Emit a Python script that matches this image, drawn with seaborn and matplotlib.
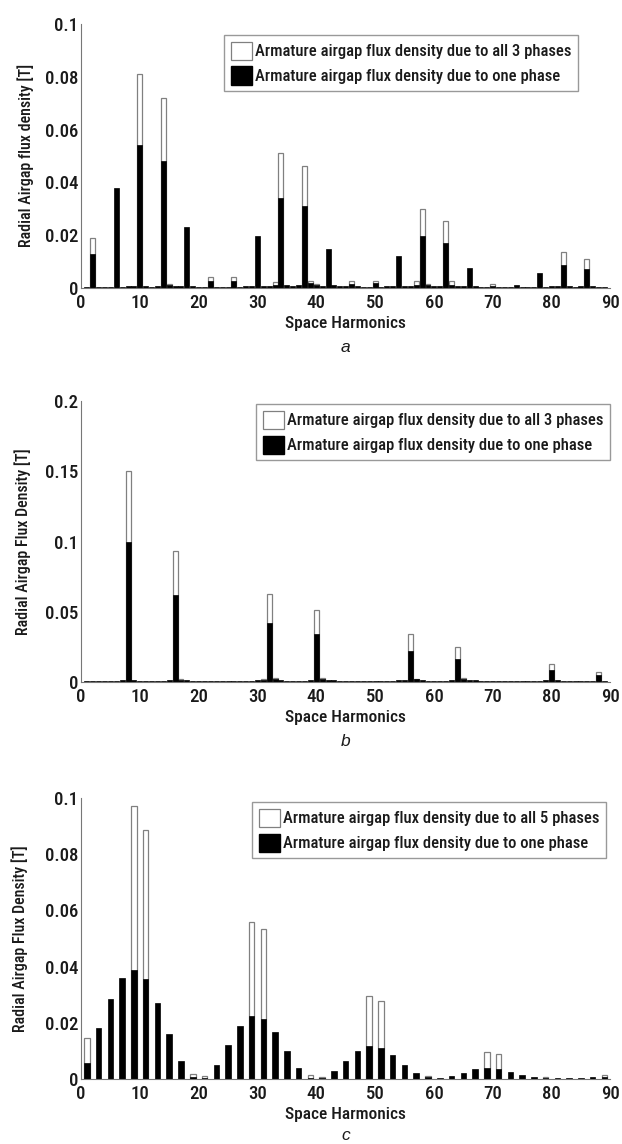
import matplotlib
matplotlib.use("Agg")
import matplotlib.pyplot as plt
from matplotlib.patches import Patch
from matplotlib import font_manager
import seaborn as sns
import numpy as np

# ---------------- data ----------------
harm_a = list(range(1, 90))
one_a = [0.0003, 0.013, 0.0003, 0.0003, 0.0004, 0.038, 0.0004, 0.0006, 0.0008, 0.054,
         0.0008, 0.0004, 0.0008, 0.048, 0.0012, 0.0008, 0.0006, 0.023, 0.0008, 0.0004,
         0.0004, 0.0028, 0.0004, 0.0003, 0.0004, 0.0028, 0.0004, 0.0006, 0.0008, 0.0198,
         0.0006, 0.0008, 0.0012, 0.034, 0.0012, 0.0006, 0.0012, 0.031, 0.0018, 0.0012,
         0.0008, 0.0148, 0.0012, 0.0008, 0.0006, 0.0015, 0.0006, 0.0004, 0.0004, 0.0018,
         0.0004, 0.0006, 0.0008, 0.012, 0.0008, 0.0008, 0.0012, 0.0198, 0.0012, 0.0008,
         0.0008, 0.017, 0.0012, 0.0008, 0.0006, 0.0077, 0.0006, 0.0004, 0.0004, 0.0008,
         0.0004, 0.0003, 0.0004, 0.0010, 0.0003, 0.0003, 0.0004, 0.0058, 0.0004, 0.0006,
         0.0008, 0.0088, 0.0008, 0.0004, 0.0006, 0.0072, 0.0008, 0.0004, 0.0003]
harm_a_all = [2, 10, 14, 15, 22, 26, 33, 34, 38, 39, 40, 46, 50, 57, 58, 59, 62, 63, 70, 82, 86]
all_a = [0.019, 0.081, 0.072, 0.0015, 0.004, 0.004, 0.0022, 0.051, 0.046, 0.0025, 0.0015,
         0.0025, 0.0025, 0.0025, 0.030, 0.0015, 0.0255, 0.0025, 0.0015, 0.0135, 0.0108]

harm_b = list(range(1, 90))
one_b = [0.0004, 0.0004, 0.0004, 0.0004, 0.0006, 0.0008, 0.0012, 0.100, 0.0015, 0.0008,
         0.0004, 0.0004, 0.0004, 0.0004, 0.0012, 0.062, 0.0018, 0.0012, 0.0008, 0.0006,
         0.0005, 0.0005, 0.0005, 0.0005, 0.0005, 0.0005, 0.0006, 0.0008, 0.0010, 0.0012,
         0.0018, 0.042, 0.0020, 0.0012, 0.0005, 0.0004, 0.0005, 0.0008, 0.0015, 0.034,
         0.0020, 0.0015, 0.0012, 0.0008, 0.0006, 0.0005, 0.0005, 0.0005, 0.0005, 0.0005,
         0.0006, 0.0008, 0.0010, 0.0012, 0.0018, 0.022, 0.0020, 0.0012, 0.0006, 0.0004,
         0.0005, 0.0008, 0.0012, 0.0165, 0.0020, 0.0015, 0.0012, 0.0008, 0.0006, 0.0005,
         0.0004, 0.0004, 0.0004, 0.0004, 0.0004, 0.0005, 0.0006, 0.0008, 0.0012, 0.0085,
         0.0012, 0.0006, 0.0004, 0.0004, 0.0004, 0.0005, 0.0008, 0.005, 0.0008]
harm_b_all = [8, 16, 17, 31, 32, 33, 40, 41, 56, 57, 64, 65, 80, 88]
all_b = [0.150, 0.093, 0.002, 0.002, 0.063, 0.003, 0.051, 0.003, 0.034, 0.002, 0.025, 0.003, 0.013, 0.0075]

harm_c = list(range(1, 90, 2))
one_c = [0.0058, 0.018, 0.0285, 0.036, 0.0388, 0.0355, 0.027, 0.016, 0.0063, 0.0008,
         0.0004, 0.005, 0.012, 0.0187, 0.0224, 0.0215, 0.0166, 0.0101, 0.004, 0.0004,
         0.0003, 0.0027, 0.0063, 0.0098, 0.0117, 0.0112, 0.0085, 0.005, 0.002, 0.0006,
         0.0003, 0.0009, 0.0022, 0.0034, 0.0038, 0.0035, 0.0025, 0.0015, 0.0007, 0.0004,
         0.0003, 0.0003, 0.0004, 0.0006, 0.0008]
harm_c_all = [1, 9, 11, 19, 21, 29, 31, 39, 41, 49, 51, 59, 69, 71, 79, 89]
all_c = [0.0145, 0.097, 0.0885, 0.0018, 0.0012, 0.056, 0.0533, 0.0015, 0.0008,
         0.0297, 0.0276, 0.001, 0.0097, 0.0088, 0.0006, 0.0015]

xticks = [0, 10, 20, 30, 40, 50, 60, 70, 80, 90]
yticks_a = [0, 0.02, 0.04, 0.06, 0.08, 0.1]
ylabels_a = ["0", "0.02", "0.04", "0.06", "0.08", "0.1"]
yticks_b = [0, 0.05, 0.1, 0.15, 0.2]
ylabels_b = ["0", "0.05", "0.1", "0.15", "0.2"]
yticks_c = yticks_a
ylabels_c = ylabels_a

leg_all3 = "Armature airgap flux density due to all 3 phases"
leg_all5 = "Armature airgap flux density due to all 5 phases"
leg_one = "Armature airgap flux density due to one phase"

# ---------------- style ----------------
sns.set_style("white")
installed = {f.name for f in font_manager.fontManager.ttflist}
cands = ["Roboto Condensed", "Roboto", "DejaVu Sans"]
FONT = [c for c in cands if c in installed] or ["DejaVu Sans"]
plt.rcParams["font.family"] = FONT
plt.rcParams["font.stretch"] = "condensed"
plt.rcParams["font.weight"] = "medium"
plt.rcParams["axes.labelweight"] = "medium"
TXT = "#1a1a1a"
EDGE_GRAY = "#808080"

fig = plt.figure(figsize=(6.22, 11.44), dpi=100)

W = 0.851
L = 81 / 622
panels = [
    dict(rect=[L, 0.7483, W, 0.2308], h=harm_a, one=one_a, ha=harm_a_all, al=all_a,
         w=0.85, yt=yticks_a, yl=ylabels_a, ymax=0.1,
         ylabel="Radial Airgap flux density [T]", leg=leg_all3,
         legpos=(578 / 622, 1 - 35 / 1144), cap="a", capy=1 - 347 / 1144, ylc=-0.088),
    dict(rect=[L, 0.4038, W, 0.2457], h=harm_b, one=one_b, ha=harm_b_all, al=all_b,
         w=0.85, yt=yticks_b, yl=ylabels_b, ymax=0.2,
         ylabel="Radial Airgap Flux Density [T]", leg=leg_all3,
         legpos=(610 / 622, 1 - 404 / 1144), cap="b", capy=1 - 742 / 1144, ylc=-0.094),
    dict(rect=[L, 0.0568, W, 0.2456], h=harm_c, one=one_c, ha=harm_c_all, al=all_c,
         w=0.47, yt=yticks_c, yl=ylabels_c, ymax=0.1,
         ylabel="Radial Airgap Flux Density [T]", leg=leg_all5,
         legpos=(606 / 622, 1 - 802 / 1144), cap="c", capy=1 - 1136 / 1144, ylc=-0.100),
]

for p in panels:
    ax = fig.add_axes(p["rect"])
    step = p["h"][1] - p["h"][0]
    bar_w_units = p["w"] * step
    sns.barplot(x=p["ha"], y=p["al"], native_scale=True, width=1.0, color="white",
                saturation=1, edgecolor=EDGE_GRAY, linewidth=0.9, errorbar=None, ax=ax)
    for patch in ax.patches:
        cx = patch.get_x() + patch.get_width() / 2
        patch.set_width(bar_w_units)
        patch.set_x(cx - bar_w_units / 2)
    sns.barplot(x=p["h"], y=p["one"], native_scale=True, width=p["w"], color="black",
                saturation=1, edgecolor="black", linewidth=0.5, errorbar=None, ax=ax)
    ax.set_xlim(0, 90)
    ax.set_ylim(0, p["ymax"])
    ax.set_xticks(xticks)
    ax.set_xticklabels([str(t) for t in xticks])
    ax.set_yticks(p["yt"])
    ax.set_yticklabels(p["yl"])
    ax.tick_params(axis="both", direction="in", length=3, width=0.8, colors="#777777",
                   labelsize=13.5, labelcolor=TXT)
    ax.tick_params(axis="x", pad=4)
    ax.tick_params(axis="y", pad=2)
    for s in ["top", "right"]:
        ax.spines[s].set_visible(False)
    for s in ["left", "bottom"]:
        ax.spines[s].set_color("#777777")
        ax.spines[s].set_linewidth(0.8)
    ax.set_xlabel("Space Harmonics", fontsize=12.5, color=TXT, labelpad=3)
    ax.set_ylabel(p["ylabel"], fontsize=11.5, color=TXT)
    ax.yaxis.set_label_coords(p["ylc"], 0.5)

    handles = [Patch(facecolor="white", edgecolor=EDGE_GRAY, linewidth=0.9),
               Patch(facecolor="black", edgecolor="black")]
    fig.legend(handles, [p["leg"], leg_one], loc="upper right",
               bbox_to_anchor=p["legpos"], bbox_transform=fig.transFigure,
               fontsize=12, frameon=True, fancybox=False, framealpha=1,
               edgecolor="#999999", borderaxespad=0, handlelength=1.3,
               handleheight=1.3, handletextpad=0.15, borderpad=0.4,
               labelspacing=0.4, labelcolor=TXT)

    fig.text(L + W / 2, p["capy"], p["cap"], ha="center", va="center",
             fontsize=12.5, style="italic", fontweight="normal",
             family=["Liberation Sans", "DejaVu Sans"], color=TXT)

fig.savefig("out.png", dpi=100, facecolor="white")
